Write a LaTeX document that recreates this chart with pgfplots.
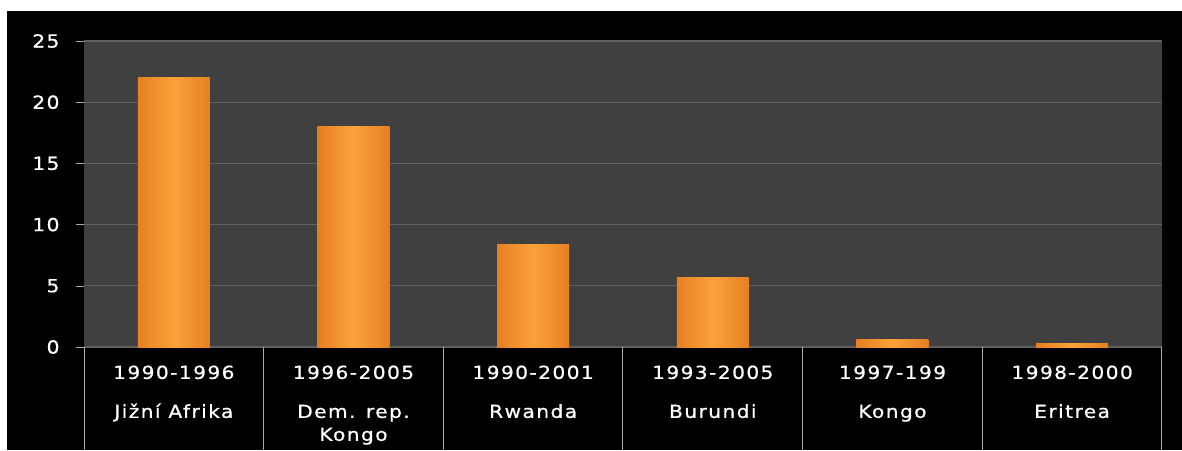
\documentclass[border=0pt]{standalone}
\usepackage{pgfplots}
\pgfplotsset{compat=1.18}
\usepackage{fontspec}
\setmainfont{DejaVu Sans}[FakeStretch=1.12, LetterSpace=8, FakeBold=0.8]
\definecolor{plotbg}{HTML}{404040}
\definecolor{gridc}{HTML}{606060}
\definecolor{sepc}{HTML}{A8A8A8}
\definecolor{barD}{HTML}{E67F22}
\definecolor{barL}{HTML}{FBA23A}
\begin{document}
\begin{tikzpicture}[x=1pt,y=1pt]
\fill[white] (0,0) rectangle (1182,450);
\fill[black] (7,0) rectangle (1182,439);
\begin{axis}[
  at={(84pt,103pt)}, anchor=south west,
  scale only axis, width=1078pt, height=306pt,
  xmin=-0.5, xmax=5.5, ymin=0, ymax=25,
  ybar, bar width=72pt, bar shift=0pt,
  axis background/.style={fill=plotbg},
  axis line style={draw=none},
  ytick={0,5,...,25}, ytick pos=left,
  ymajorgrids, grid style={gridc, line width=1.2pt},
  ytick style={draw=sepc, line width=0.6pt},
  tick align=outside, major tick length=8pt,
  xtick={0,...,5},
  xtick style={draw=none},
  xticklabels={{1990-1996\\[16pt]Jižní Afrika},{1996-2005\\[16pt]Dem. rep.\\Kongo},{1990-2001\\[16pt]Rwanda},{1993-2005\\[16pt]Burundi},{1997-199\\[16pt]Kongo},{1998-2000\\[16pt]Eritrea}},
  xticklabel style={align=center, text=white, font=\fontsize{18}{23}\selectfont, yshift=-7pt},
  yticklabel style={text=white, font=\fontsize{18}{23}\selectfont, xshift=-13pt},
  /pgf/number format/assume math mode=true,
  clip=false,
  barstyle/.style={draw=none, left color=barD, right color=barD, middle color=barL},
]
\addplot[barstyle] coordinates {(0,22)};
\addplot[barstyle] coordinates {(1,18)};
\addplot[barstyle] coordinates {(2,8.4)};
\addplot[barstyle] coordinates {(3,5.7)};
\addplot[barstyle] coordinates {(4,0.65)};
\addplot[barstyle] coordinates {(5,0.3)};
\pgfplotsinvokeforeach{-0.5,0.5,1.5,2.5,3.5,4.5,5.5}{
  \draw[sepc, line width=1pt] (axis cs:#1,0) -- ++(0pt,-103pt);
}
\end{axis}
\end{tikzpicture}
\end{document}
